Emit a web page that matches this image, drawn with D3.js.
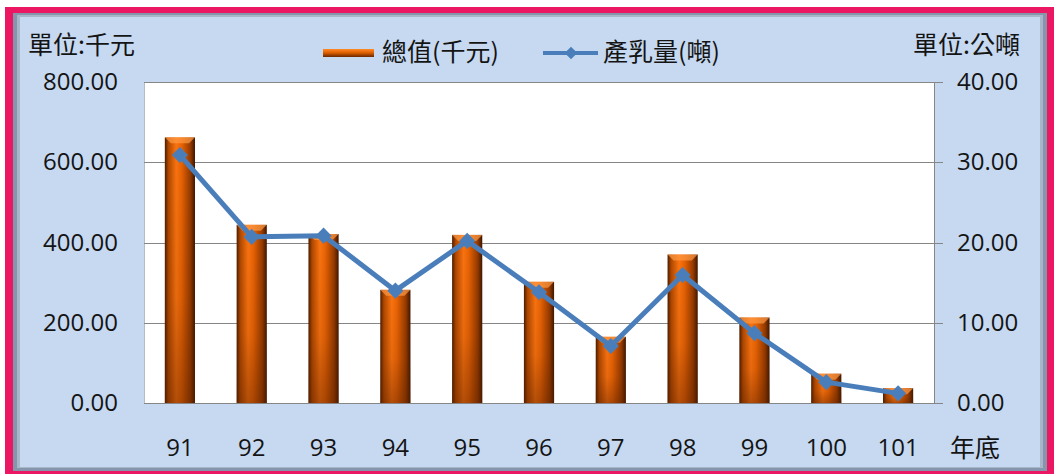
<html>
<head>
    <meta charset="utf-8" />
    <title>總值與產乳量</title>
    <style>
      body {
    margin: 0;
    padding: 0;
    background: #fff;
}

svg text {
    fill: #141414;
}

.num text {
    font-family: 'Open Sans', 'Noto Sans', sans-serif;
    font-size: 24px;
}

.cjk {
    font-family: 'Noto Sans CJK TC', 'Noto Sans CJK SC', sans-serif;
    font-size: 25px;
}

.grid line {
    stroke: #868686;
    stroke-width: 1;
    shape-rendering: crispEdges;
}

.axis path, .axis line {
    fill: none;
    stroke: #868686;
    stroke-width: 1;
    shape-rendering: crispEdges;
}

.line {
    fill: none;
    stroke: #4a7ebb;
    stroke-width: 5;
    stroke-linejoin: round;
}
    </style>
    <script src="https://d3js.org/d3.v7.min.js"></script>
</head>
<body>
    <script>
// data
var years = ["91", "92", "93", "94", "95", "96", "97", "98", "99", "100", "101"];
var totalValue = [662, 444, 421, 282, 419, 302, 165, 370, 213, 73, 37];      // 總值(千元)
var milkOutput = [30.9, 20.7, 20.85, 14.0, 20.2, 13.8, 7.1, 15.95, 8.7, 2.6, 1.2]; // 產乳量(噸)
var leftTicks = [0, 200, 400, 600, 800];
var rightTicks = [0, 10, 20, 30, 40];

var W = 1054, H = 474;
var plot = { left: 144, right: 934, top: 82, bottom: 403 };

var svg = d3.select("body").append("svg")
    .attr("width", W)
    .attr("height", H);

// gradients for the cylinder bars
var defs = svg.append("defs");
var hg = defs.append("linearGradient").attr("id", "barH")
    .attr("x1", "0").attr("x2", "1").attr("y1", "0").attr("y2", "0");
[[0, "#4a1c00"], [0.12, "#b04800"], [0.38, "#fb7410"], [0.55, "#ea6404"], [0.85, "#943a00"], [1, "#3e1600"]]
    .forEach(function (s) { hg.append("stop").attr("offset", s[0]).attr("stop-color", s[1]); });
var vg = defs.append("linearGradient").attr("id", "barV")
    .attr("x1", "0").attr("x2", "0").attr("y1", "0").attr("y2", "1");
vg.append("stop").attr("offset", 0).attr("stop-color", "#5a2000").attr("stop-opacity", 0);
vg.append("stop").attr("offset", 0.6).attr("stop-color", "#5a2000").attr("stop-opacity", 0.12);
vg.append("stop").attr("offset", 1).attr("stop-color", "#5a2000").attr("stop-opacity", 0.45);
var lg = defs.append("linearGradient").attr("id", "legBar")
    .attr("x1", "0").attr("x2", "0").attr("y1", "0").attr("y2", "1");
[[0, "#ff8a2a"], [0.45, "#e06000"], [1, "#6a2800"]]
    .forEach(function (s) { lg.append("stop").attr("offset", s[0]).attr("stop-color", s[1]); });

// frame: pink border, grey bevel, light blue panel
svg.append("rect").attr("x", 5).attr("y", 7).attr("width", W - 5).attr("height", H - 7).attr("fill", "#ec1763");
svg.append("rect").attr("x", 13).attr("y", 13).attr("width", 1034).attr("height", 458).attr("fill", "#8595ab");
svg.append("rect").attr("x", 17).attr("y", 15).attr("width", 1026).attr("height", 453).attr("fill", "#a7b6c9");
svg.append("rect").attr("x", 20).attr("y", 17).attr("width", 1020).attr("height", 450).attr("fill", "#c6d9f0");

// plot area
svg.append("rect")
    .attr("x", plot.left).attr("y", plot.top)
    .attr("width", plot.right - plot.left).attr("height", plot.bottom - plot.top)
    .attr("fill", "#fff");
svg.append("line")
    .attr("x1", plot.left + 0.5).attr("x2", plot.left + 0.5)
    .attr("y1", plot.top).attr("y2", plot.bottom)
    .attr("stroke", "#b4bcc6");

// scales
var x = d3.scaleBand().domain(years).range([plot.left, plot.right]).padding(0);
var yL = d3.scaleLinear().domain([0, 800]).range([plot.bottom, plot.top]);
var yR = d3.scaleLinear().domain([0, 40]).range([plot.bottom, plot.top]);
var barW = x.bandwidth() * 0.42;

// gridlines
svg.append("g").attr("class", "grid")
    .attr("transform", "translate(" + plot.left + ",0)")
    .call(d3.axisLeft(yL).tickValues(leftTicks).tickSize(-(plot.right - plot.left)).tickFormat(""))
    .call(function (g) { g.select(".domain").remove(); });

// left axis labels
svg.append("g").attr("class", "num")
    .attr("transform", "translate(" + plot.left + ",0)")
    .call(d3.axisLeft(yL).tickValues(leftTicks).tickSize(0).tickPadding(26).tickFormat(d3.format(".2f")))
    .call(function (g) { g.select(".domain").remove(); });

// right axis
svg.append("g").attr("class", "axis num")
    .attr("transform", "translate(" + plot.right + ",0)")
    .call(d3.axisRight(yR).tickValues(rightTicks).tickSize(9).tickPadding(14).tickSizeOuter(0).tickFormat(d3.format(".2f")));

// bottom axis line + labels
svg.append("g").attr("class", "axis num")
    .attr("transform", "translate(0," + plot.bottom + ")")
    .call(d3.axisBottom(x).tickSize(0).tickPadding(36).tickSizeOuter(0))
    .call(function (g) { g.select(".domain").attr("d", "M" + plot.left + ",0.5H" + (plot.right + 9)); });

// bars
var bars = svg.append("g").selectAll("g.bar")
    .data(years)
    .enter().append("g").attr("class", "bar");
bars.append("rect")
    .attr("x", function (d) { return x(d) + (x.bandwidth() - barW) / 2; })
    .attr("y", function (d, i) { return yL(totalValue[i]); })
    .attr("width", barW)
    .attr("height", function (d, i) { return plot.bottom - yL(totalValue[i]); })
    .attr("fill", "url(#barH)");
bars.append("rect")
    .attr("x", function (d) { return x(d) + (x.bandwidth() - barW) / 2; })
    .attr("y", function (d, i) { return yL(totalValue[i]); })
    .attr("width", barW)
    .attr("height", function (d, i) { return plot.bottom - yL(totalValue[i]); })
    .attr("fill", "url(#barV)");
// bevelled top cap
bars.append("path")
    .attr("d", function (d, i) {
        var x0 = x(d) + (x.bandwidth() - barW) / 2, y0 = yL(totalValue[i]);
        return "M" + x0 + "," + y0 + "h" + barW + "l-6,6h" + (-(barW - 12)) + "z";
    })
    .attr("fill", "#ff9a45")
    .attr("opacity", 0.7);

// line series
var line = d3.line()
    .x(function (d, i) { return x(years[i]) + x.bandwidth() / 2; })
    .y(function (d) { return yR(d); });
svg.append("path").datum(milkOutput).attr("class", "line").attr("d", line);

var diamond = d3.symbol().type(d3.symbolSquare).size(130);
svg.append("g").selectAll("path")
    .data(milkOutput)
    .enter().append("path")
    .attr("d", diamond)
    .attr("transform", function (d, i) {
        return "translate(" + (x(years[i]) + x.bandwidth() / 2) + "," + yR(d) + ") rotate(45)";
    })
    .attr("fill", "#4a7ebb");

// titles and units
svg.append("text").attr("class", "cjk").attr("x", 28).attr("y", 45).attr("dy", "0.35em").text("單位:千元");
svg.append("text").attr("class", "cjk").attr("x", 1020).attr("y", 45).attr("dy", "0.35em")
    .attr("text-anchor", "end").text("單位:公噸");
svg.append("text").attr("class", "cjk").attr("x", 950).attr("y", 448).attr("dy", "0.35em").text("年底");

// legend
var leg = svg.append("g");
leg.append("rect").attr("x", 323).attr("y", 49).attr("width", 51).attr("height", 8).attr("fill", "url(#legBar)");
leg.append("text").attr("class", "cjk").attr("x", 382).attr("y", 52).attr("dy", "0.35em").text("總值(千元)");
leg.append("line").attr("x1", 543).attr("x2", 598).attr("y1", 53).attr("y2", 53)
    .attr("stroke", "#4a7ebb").attr("stroke-width", 4);
leg.append("path").attr("d", d3.symbol().type(d3.symbolSquare).size(80))
    .attr("transform", "translate(571,53) rotate(45)").attr("fill", "#4a7ebb");
leg.append("text").attr("class", "cjk").attr("x", 603).attr("y", 52).attr("dy", "0.35em").text("產乳量(噸)");
    </script>
</body>
</html>
